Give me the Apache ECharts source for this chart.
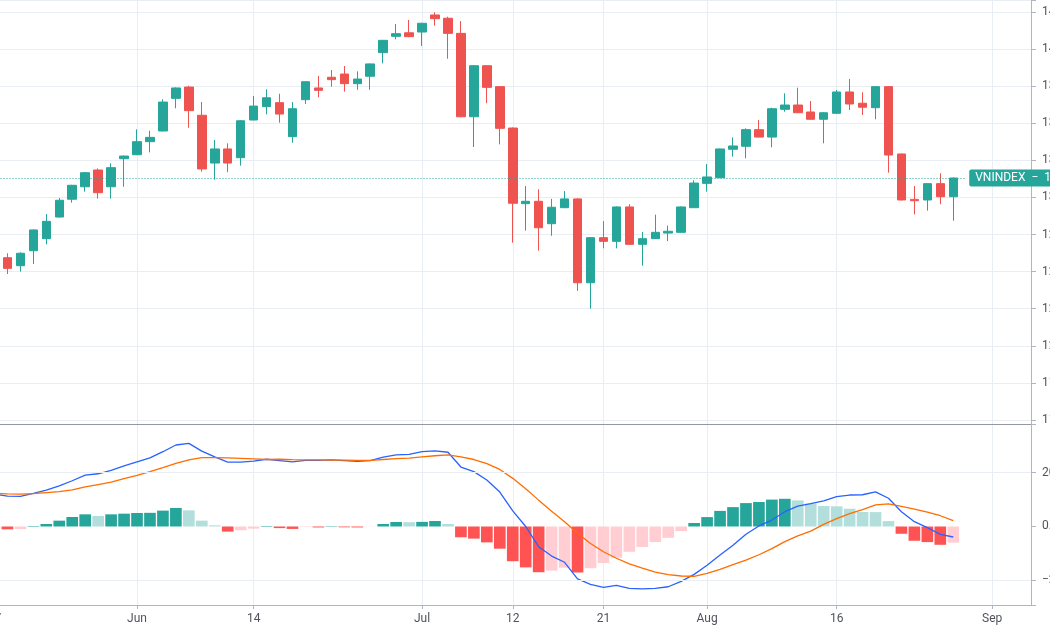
<!DOCTYPE html>
<html>
<head>
<meta charset="utf-8">
<script src="https://cdn.jsdelivr.net/npm/echarts@6/dist/echarts.min.js"></script>
<style>
  html, body { margin: 0; padding: 0; background: #fff; overflow: hidden; width: 1050px; height: 630px; position: relative; }
  /* chart is wider than the window so the price labels get cut at the right edge, like the screenshot */
  #chart { position: absolute; left: -100px; top: 0; width: 1250px; height: 630px; }
</style>
</head>
<body>
<div id="chart"></div>
<script>
// trading days, May 17 .. Sep 6 2021 (the last ones are empty space on the right)
const dates = [
  '2021-05-17','2021-05-18','2021-05-19','2021-05-20','2021-05-21','2021-05-24','2021-05-25','2021-05-26','2021-05-27','2021-05-28','2021-05-31',
  '2021-06-01','2021-06-02','2021-06-03','2021-06-04','2021-06-07','2021-06-08','2021-06-09','2021-06-10','2021-06-11','2021-06-14','2021-06-15',
  '2021-06-16','2021-06-17','2021-06-18','2021-06-21','2021-06-22','2021-06-23','2021-06-24','2021-06-25','2021-06-28','2021-06-29','2021-06-30',
  '2021-07-01','2021-07-02','2021-07-05','2021-07-06','2021-07-07','2021-07-08','2021-07-09','2021-07-12','2021-07-13','2021-07-14','2021-07-15',
  '2021-07-16','2021-07-19','2021-07-20','2021-07-21','2021-07-22','2021-07-23','2021-07-26','2021-07-27','2021-07-28','2021-07-29','2021-07-30',
  '2021-08-02','2021-08-03','2021-08-04','2021-08-05','2021-08-06','2021-08-09','2021-08-10','2021-08-11','2021-08-12','2021-08-13','2021-08-16',
  '2021-08-17','2021-08-18','2021-08-19','2021-08-20','2021-08-23','2021-08-24','2021-08-25','2021-08-26','2021-08-27','2021-08-30','2021-08-31',
  '2021-09-01','2021-09-02','2021-09-03','2021-09-06'
];
const tickDates  = ['2021-05-17','2021-06-01','2021-06-14','2021-07-01','2021-07-12','2021-07-21','2021-08-02','2021-08-16','2021-09-01'];
const tickLabels = ['17','Jun','14','Jul','12','21','Aug','16','Sep'];
const macdGridLevels = [20, -20];

// VNINDEX daily candles, May 18 .. Aug 27
const opens = [
  1259.4,1254.0,1264.1,1272.2,1286.8,1298.8,1307.2,1318.5,1307.2,1326.1,
  1328.8,1337.6,1344.8,1366.8,1374.4,1355.4,1323.2,1332.7,1326.8,1352.2,1361.2,1363.9,1341.0,1365.9,1373.8,1381.0,1383.2,1376.7,1381.7,1397.6,1408.6,1411.0,
  1411.5,1423.0,1420.8,1410.6,1354.4,1388.8,1374.7,1346.8,1295.8,1297.4,1282.3,1293.1,1299.0,1242.5,1272.9,1270.4,1293.6,1268.4,1272.2,1276.0,1276.5,1293.1,
  1309.5,1313.3,1332.5,1334.5,1345.7,1340.7,1359.4,1362.3,1357.6,1352.7,1356.7,1371.1,1363.5,1360.5,1374.7,1329.3,1298.7,1298.3,1309.3,1300.5
];
const closes = [
  1252.2,1262.4,1278.1,1283.9,1298.1,1308.2,1316.7,1303.2,1320.1,1327.9,
  1337.6,1340.5,1364.3,1373.8,1358.5,1319.2,1332.7,1323.2,1351.7,1361.6,1367.2,1356.2,1359.8,1378.0,1372.2,1379.4,1376.7,1379.8,1390.0,1405.9,1410.4,1408.4,
  1417.4,1420.5,1410.6,1354.4,1388.8,1374.2,1346.6,1296.1,1297.4,1279.6,1293.4,1299.0,1242.5,1272.9,1270.4,1293.6,1268.4,1272.2,1276.5,1277.2,1293.6,1309.7,
  1313.8,1332.7,1334.7,1345.7,1340.7,1359.8,1362.3,1357.1,1352.7,1357.1,1371.1,1363.0,1360.8,1374.7,1328.6,1298.3,1297.8,1309.3,1300.5,1313.1
];
const lows = [
  1248.4,1250.0,1255.1,1268.4,1286.5,1296.5,1303.9,1299.2,1299.2,1307.2,
  1328.5,1330.4,1344.5,1360.1,1347.0,1317.4,1312.0,1317.0,1321.4,1352.0,1356.0,1350.4,1336.9,1363.0,1367.5,1374.7,1371.3,1372.6,1372.6,1390.4,1406.6,1408.0,
  1402.1,1415.8,1393.5,1354.0,1334.0,1363.5,1335.8,1269.5,1277.6,1264.1,1274.2,1293.0,1237.0,1225.0,1265.7,1265.7,1268.0,1254.0,1272.0,1270.6,1276.0,1293.0,
  1303.9,1313.0,1327.5,1326.4,1340.5,1333.8,1357.8,1357.0,1352.5,1336.5,1356.5,1358.9,1355.6,1352.7,1316.7,1298.0,1288.6,1291.1,1295.4,1284.3
];
const highs = [
  1262.4,1263.0,1278.5,1288.8,1299.6,1308.5,1317.2,1319.6,1323.0,1328.2,
  1345.9,1345.0,1366.2,1374.2,1375.3,1364.3,1338.7,1336.5,1352.2,1368.4,1372.9,1369.9,1364.3,1378.3,1381.9,1385.9,1388.6,1385.0,1390.3,1406.2,1416.9,1419.6,
  1417.7,1424.8,1421.8,1418.9,1389.2,1389.2,1375.0,1347.2,1307.7,1305.5,1299.0,1304.3,1299.5,1273.2,1284.1,1294.0,1295.4,1276.7,1288.4,1281.0,1294.0,1311.6,
  1322.5,1333.0,1340.5,1346.6,1352.2,1360.5,1370.2,1374.0,1365.0,1357.5,1372.4,1379.8,1370.9,1375.0,1375.0,1329.5,1307.7,1309.5,1316.3,1313.5
];

// MACD pane, May 17 .. Aug 27
const macdHist = [
  -0.9,-1.05,-0.95,0.19,0.93,2.17,3.53,4.52,3.9,4.52,4.77,
  5.02,5.08,5.9,6.9,6.0,2.17,0.43,-1.9,-1.4,-0.8,0.2,-0.6,-0.9,-0.2,-0.35,0.15,-0.3,-0.35,-0.05,0.93,1.67,1.6,
  1.72,2.04,0.93,-4.0,-4.5,-5.9,-8.25,-12.9,-15.2,-17.0,-16.4,-15.3,-17.1,-15.5,-13.6,-11.6,-9.4,-7.6,-5.8,-4.2,-1.7,1.3,
  3.5,5.8,7.2,8.7,9.1,10.0,10.3,9.7,8.5,7.6,7.5,6.6,5.4,5.35,2.0,-2.7,-5.3,-5.8,-6.8,-6.0
];
const macdLine = [
  12.0,11.3,11.2,12.3,13.5,15.1,17.0,19.1,19.6,20.9,22.5,
  24.0,25.5,27.8,30.3,30.9,28.0,25.9,23.9,23.9,24.3,25.0,24.5,24.0,24.6,24.6,24.8,24.5,24.2,24.5,25.8,26.6,26.8,
  27.8,28.1,27.6,22.1,20.4,17.3,12.8,5.8,0.0,-7.5,-11.0,-13.3,-19.5,-21.5,-22.6,-21.9,-23.0,-23.2,-23.0,-22.4,-20.4,-17.8,
  -14.4,-10.6,-7.0,-2.9,0.2,2.4,5.5,7.6,8.5,9.5,11.1,11.7,11.8,12.9,10.5,5.5,1.8,-0.4,-2.9,-3.9
];
const signalLine = [
  12.3,12.1,12.0,12.2,12.6,13.0,13.6,14.7,15.6,16.5,17.8,
  19.0,20.4,21.9,23.5,24.8,25.6,25.6,25.5,25.3,25.1,24.9,25.0,24.85,24.8,24.75,24.7,24.65,24.6,24.6,24.9,25.2,25.4,
  25.9,26.3,26.6,25.9,24.9,23.4,21.2,17.9,14.0,9.8,5.7,1.8,-2.5,-6.3,-9.4,-11.8,-13.9,-15.5,-17.0,-17.9,-18.4,-18.5,
  -17.4,-15.9,-14.2,-12.5,-10.5,-8.2,-5.6,-3.5,-1.7,0.8,2.9,4.8,6.3,8.0,8.4,7.5,6.5,5.3,4.0,2.2
];

const UP = '#26a69a';
const DOWN = '#ef5350';
const GRID_COLOR = '#e9eef4';
const AXIS_COLOR = '#b2b5be';
const TEXT_COLOR = '#50535e';
const FONT = "'Trebuchet MS', Roboto, sans-serif";

// first category (May 17) has no candle
const candleData = [['-', '-', '-', '-']].concat(
  opens.map((o, i) => [o, closes[i], lows[i], highs[i]])
);
const lastClose = closes[closes.length - 1];

// tradingview colouring: strong when the bar grows away from zero
const histData = macdHist.map((v, i) => {
  const prev = i > 0 ? macdHist[i - 1] : v;
  let c;
  if (v >= 0) c = v >= prev ? '#26a69a' : '#b2dfdb';
  else c = v < prev ? '#ff5252' : '#ffcdd2';
  return { value: v, itemStyle: { color: c } };
});

const isTick = (idx, val) => tickDates.indexOf(val) >= 0;
const onStep = (v, step) => Math.abs(v / step - Math.round(v / step)) < 1e-6;

const chart = echarts.init(document.getElementById('chart'));

const option = {
  animation: false,
  backgroundColor: '#ffffff',
  textStyle: { fontFamily: FONT },
  grid: [
    { left: 94.5, right: 119, top: 0, height: 424 },
    { left: 94.5, right: 119, top: 424, height: 181 }
  ],
  xAxis: [
    {
      type: 'category', gridIndex: 0, data: dates, boundaryGap: false,
      axisLine: { show: true, onZero: false, lineStyle: { color: '#9598a1', width: 1 } },
      axisTick: { show: false },
      axisLabel: { show: false },
      splitLine: { show: true, interval: isTick, lineStyle: { color: GRID_COLOR } }
    },
    {
      type: 'category', gridIndex: 1, data: dates, boundaryGap: false,
      axisLine: { show: true, onZero: false, lineStyle: { color: AXIS_COLOR } },
      axisTick: { show: true, interval: isTick, length: 4, lineStyle: { color: AXIS_COLOR } },
      axisLabel: {
        interval: isTick, color: TEXT_COLOR, fontSize: 12, fontFamily: FONT, margin: 8,
        formatter: v => tickLabels[tickDates.indexOf(v)]
      },
      splitLine: { show: true, interval: isTick, lineStyle: { color: GRID_COLOR } }
    }
  ],
  yAxis: [
    {
      type: 'value', gridIndex: 0, position: 'right',
      min: 1147.3, max: 1433.09, minInterval: 25, maxInterval: 25,
      axisLine: { show: true, lineStyle: { color: AXIS_COLOR } },
      axisTick: { show: true, length: 5, lineStyle: { color: AXIS_COLOR } },
      axisLabel: {
        color: TEXT_COLOR, fontSize: 12, fontFamily: FONT, margin: 11,
        formatter: v => onStep(v, 25) ? v.toFixed(2) : ''
      },
      splitLine: { show: true, lineStyle: { color: GRID_COLOR } }
    },
    {
      type: 'value', gridIndex: 1, position: 'right',
      min: -29.18, max: 38.1, minInterval: 20, maxInterval: 20,
      axisLine: { show: true, lineStyle: { color: AXIS_COLOR } },
      axisTick: { show: true, length: 5, lineStyle: { color: AXIS_COLOR } },
      axisLabel: {
        color: TEXT_COLOR, fontSize: 12, fontFamily: FONT, margin: 11,
        formatter: v => onStep(v, 20) ? (v < 0 ? '\u2212' + Math.abs(v).toFixed(2) : v.toFixed(2)) : ''
      },
      // no line at zero in the reference, the +/-20 lines are drawn below
      splitLine: { show: false }
    }
  ],
  series: [
    {
      name: 'VNINDEX',
      type: 'candlestick',
      xAxisIndex: 0, yAxisIndex: 0,
      data: candleData,
      barWidth: 9,
      itemStyle: { color: UP, color0: DOWN, borderColor: UP, borderColor0: DOWN, borderWidth: 1 },
      markLine: {
        silent: true,
        symbol: 'none',
        lineStyle: { color: UP, type: [1, 2], width: 1 },
        label: {
          show: true, position: 'end', distance: 3,
          formatter: 'VNINDEX  \u2212  ' + lastClose.toFixed(2),
          color: '#ffffff', fontSize: 12, fontFamily: FONT, lineHeight: 13,
          backgroundColor: UP, padding: [2, 6, 2, 6], borderRadius: 2
        },
        data: [[
          { coord: [dates[0], lastClose] },
          { coord: [dates[75], lastClose] }
        ]]
      }
    },
    {
      name: 'Histogram',
      type: 'bar',
      xAxisIndex: 1, yAxisIndex: 1,
      data: histData,
      barWidth: '90%',
      markLine: {
        silent: true,
        symbol: 'none',
        label: { show: false },
        lineStyle: { color: GRID_COLOR, type: 'solid', width: 1 },
        data: macdGridLevels.map(v => ({ yAxis: v }))
      }
    },
    {
      name: 'MACD',
      type: 'line',
      xAxisIndex: 1, yAxisIndex: 1,
      data: macdLine,
      showSymbol: false,
      lineStyle: { color: '#2962ff', width: 1.3 }
    },
    {
      name: 'Signal',
      type: 'line',
      xAxisIndex: 1, yAxisIndex: 1,
      data: signalLine,
      showSymbol: false,
      lineStyle: { color: '#ff6d00', width: 1.3 }
    }
  ]
};

chart.setOption(option);
</script>
</body>
</html>
